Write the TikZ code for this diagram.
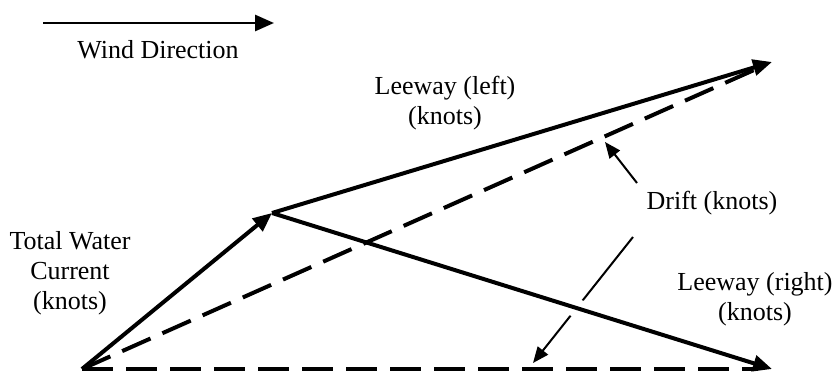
\documentclass[tikz,border=0pt]{standalone}
\usepackage{fontspec}
\setmainfont{Liberation Serif}
\usetikzlibrary{arrows.meta}

\begin{document}
\begin{tikzpicture}[x=1pt, y=-1pt,
  font=\fontsize{26}{30}\selectfont,
  vec/.style={-{Triangle[length=19pt, width=16pt]}, line width=4pt},
  drift/.style={dash pattern=on 31pt off 13pt, line width=4pt, shorten >=14pt},
  ptr/.style={-{Triangle[length=16pt, width=13pt]}, line width=2pt},
  lbl/.style={align=center, inner sep=0pt},
]
\useasboundingbox (0,0) rectangle (836,375);

% ================= end points of the vectors
\coordinate (o)   at (82,369);
\coordinate (cur) at (272,213);
\coordinate (lwl) at (772,62);
\coordinate (lwr) at (772,369);

% ================= wind direction
\coordinate (w0) at (43,23);
\coordinate (w1) at (274,23);
\draw[vec, line width=2.8pt] (w0) -- (w1);
\node[lbl] (wind) at (158,50) {Wind Direction};

% ================= labels
\node[lbl] (twc)    at (70,273)  {Total Water\\Current\\(knots)};
\node[lbl] (lleft)  at (445,103) {Leeway (left)\\(knots)};
\node[lbl] (lright) at (755,299) {Leeway (right)\\(knots)};
\node[lbl] (dlab)   at (712,203) {Drift (knots)};

% ================= pointers from the drift label
\coordinate (pa) at (637,183);
\coordinate (pb) at (633,237);
\coordinate (ta) at (605,142);
\coordinate (tb) at (533,363);
\draw[ptr] (pa) -- (ta);
\draw[ptr] (pb) -- (tb);

% ================= current and leeway
% white edge under the right leeway breaks the lower pointer
\draw[vec, preaction={draw=white, line width=18pt, -}] (cur) -- (lwr);
\draw[vec] (o) -- (cur);
\draw[vec] (cur) -- (lwl);

% ================= drift
\draw[drift] (o) -- (lwl);
\draw[drift] (o) -- (lwr);
\end{tikzpicture}
\end{document}
